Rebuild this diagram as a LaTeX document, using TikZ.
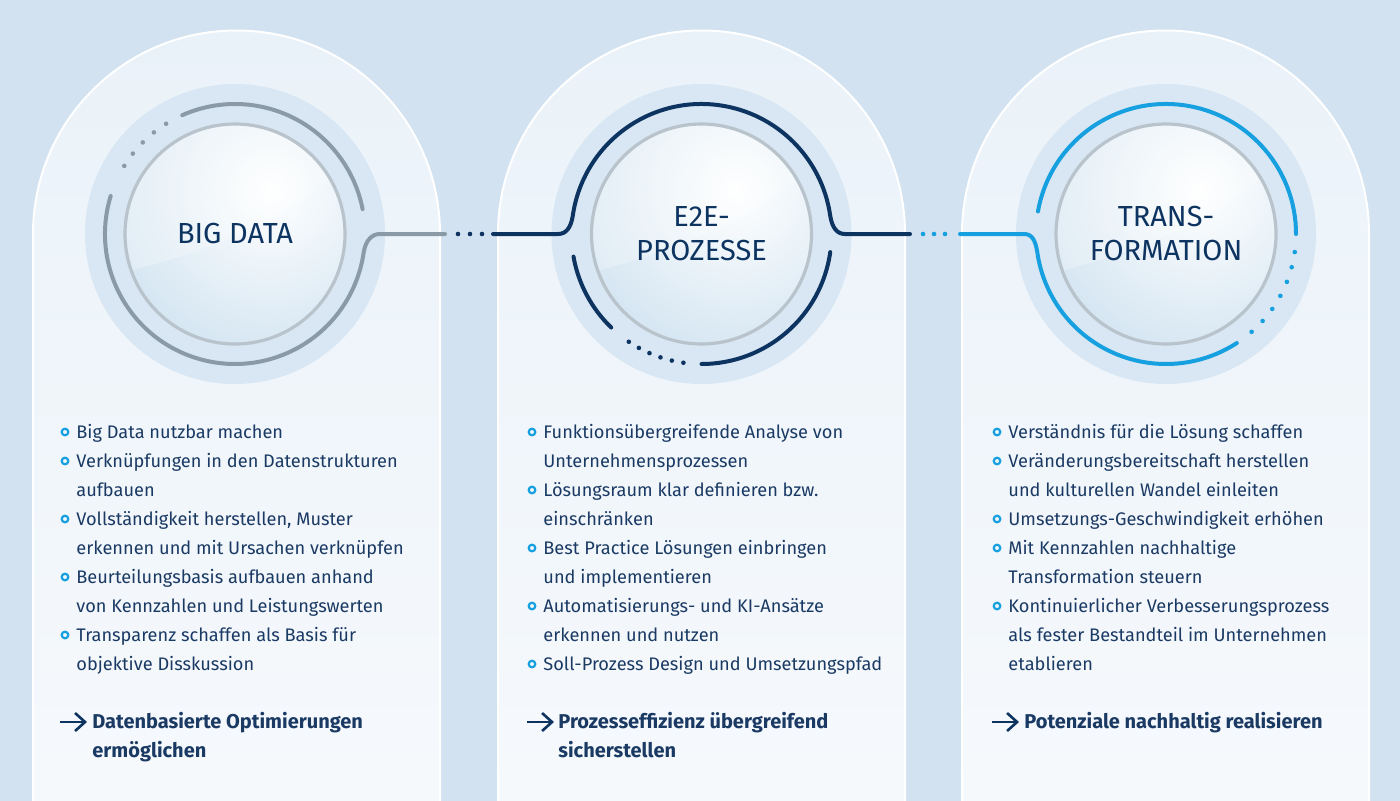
\documentclass[tikz,border=0pt]{standalone}
\usepackage{fontspec}
\setmainfont{Fira Sans}
\usetikzlibrary{calc,arrows.meta}
\definecolor{navy}{HTML}{0D3461}
\definecolor{txtc}{HTML}{1A3A64}
\definecolor{gr}{HTML}{8A9AA6}
\definecolor{lb}{HTML}{17A0E0}
\definecolor{disk}{HTML}{D8E7F3}
\definecolor{bgedge}{HTML}{D2E2F0}
\definecolor{bgmid}{HTML}{E6EFF7}
\definecolor{glass}{HTML}{D2E4F1}
\definecolor{ptop}{HTML}{EAF2F9}
\definecolor{pbot}{HTML}{F6F9FC}
\begin{document}
\begin{tikzpicture}[x=0.5pt,y=0.5pt,
  txt/.style={anchor=base west,inner sep=0,text=txtc,font=\fontsize{9.1}{10}\selectfont},
  bold/.style={anchor=base west,inner sep=0,text=txtc,font=\fontsize{10}{10}\selectfont\bfseries},
  title/.style={align=center,text=navy,font=\fontsize{14.5}{17}\selectfont},
  bul/.style={draw=lb,line width=1.1pt,fill=none},
  ring/.style={line width=2pt,line cap=round},
  panel/.style={draw=white,line width=1pt,top color=ptop,bottom color=pbot}]
\useasboundingbox (0,0) rectangle (1400,800);
\shade[left color=bgedge,middle color=bgmid,right color=bgedge] (0,0) rectangle (1400,800);
% panels
\foreach \cx in {236.5,701.5,1165.5}{
  \path[panel] (\cx-203.5,-2) -- (\cx-203.5,566) arc[start angle=180,end angle=0,radius=203.5] -- (\cx+203.5,-2) -- cycle;
}
% circles
\foreach \cx/\n in {235/c1,701.5/c2,1166/c3}{
  \coordinate (\n) at (\cx,566);
  \fill[disk] (\n) circle[radius=150];
  \begin{scope}
    \clip (\n) circle[radius=110];
    \shade[inner color=white, outer color=glass] ($(\n)+(35,45)$) circle[radius=180];
    \fill[white,opacity=0.25] ($(\n)+(-200,-60)$) .. controls ($(\n)+(-20,-20)$) and ($(\n)+(60,10)$) .. ($(\n)+(140,100)$) -- ($(\n)+(140,200)$) -- ($(\n)+(-200,200)$) -- cycle;
  \end{scope}
  \draw[color=gray!35!disk,line width=1.6pt] (\n) circle[radius=110];
}
% panel 1 rings
\draw[ring,gr] ($(c1)+(114:130)$) arc[start angle=114,end angle=11,radius=130];
\foreach \a in {122,128.6,...,155} \fill[gr] ($(c1)+(\a:130)$) circle[radius=2.3];
\draw[ring,gr] ($(c1)+(163:130)$) arc[start angle=163,end angle=352,radius=130]
  .. controls +(2,12) and +(-8,0) .. (380,566) coordinate (l1) -- (445,566) coordinate (r1);
\foreach \x in {458,470,482} \fill[navy] (\x,566) circle[radius=2.3];
% panel 2 rings
\coordinate (l2) at (493,566);
\draw[ring,navy] (l2) -- (558,566) .. controls +(8,0) and +(-2,-12) .. ($(c2)+(172:130)$)
  arc[start angle=172,end angle=8,radius=130] .. controls +(2,-12) and +(-8,0) .. (845,566) -- (910,566) coordinate (r2);
\draw[ring,navy] ($(c2)+(190:130)$) arc[start angle=190,end angle=226,radius=130];
\foreach \a in {236,241.2,...,262.5} \fill[navy] ($(c2)+(\a:130)$) circle[radius=2.3];
\draw[ring,navy] ($(c2)+(270:130)$) arc[start angle=270,end angle=352,radius=130];
\foreach \x in {923,934,945} \fill[lb] (\x,566) circle[radius=2.3];
% panel 3 rings
\coordinate (l3) at (960,566);
\draw[ring,lb] (l3) -- (1024,566) .. controls +(8,0) and +(-2,12) .. ($(c3)+(188:130)$)
  arc[start angle=188,end angle=303,radius=130];
\draw[ring,lb] ($(c3)+(170:130)$) arc[start angle=170,end angle=0,radius=130];
\foreach \a in {-8,-14.8,...,-49} \fill[lb] ($(c3)+(\a:130)$) circle[radius=2.3];
% titles
\node[title] (t1) at (c1) {BIG DATA};
\node[title] (t2) at (c2) {E2E-\\PROZESSE};
\node[title] (t3) at (c3) {TRANS-\\FORMATION};
% bullet texts
\foreach \t [count=\i from 0] in {Big Data nutzbar machen,Verknüpfungen in den Datenstrukturen,aufbauen,{Vollständigkeit herstellen, Muster},erkennen und mit Ursachen verknüpfen,Beurteilungsbasis aufbauen anhand,von Kennzahlen und Leistungswerten,Transparenz schaffen als Basis für,objektive Disskussion}
  \node[txt] (a\i) at (76,362-29*\i) {\t};
\foreach \i in {0,1,3,5,7} \draw[bul] (65,368-29*\i) circle[radius=3.3];
\foreach \t [count=\i from 0] in {Funktionsübergreifende Analyse von,Unternehmensprozessen,Lösungsraum klar definieren bzw.,einschränken,Best Practice Lösungen einbringen,und implementieren,Automatisierungs- und KI-Ansätze,erkennen und nutzen,Soll-Prozess Design und Umsetzungspfad}
  \node[txt] (b\i) at (543,362-29*\i) {\t};
\foreach \i in {0,2,4,6,8} \draw[bul] (532,368-29*\i) circle[radius=3.3];
\foreach \t [count=\i from 0] in {Verständnis für die Lösung schaffen,Veränderungsbereitschaft herstellen,und kulturellen Wandel einleiten,Umsetzungs-Geschwindigkeit erhöhen,Mit Kennzahlen nachhaltige,Transformation steuern,Kontinuierlicher Verbesserungsprozess,als fester Bestandteil im Unternehmen,etablieren}
  \node[txt] (d\i) at (1008,362-29*\i) {\t};
\foreach \i in {0,1,3,4,6} \draw[bul] (997,368-29*\i) circle[radius=3.3];
% conclusions
\foreach \x in {60,527,992} \draw[navy,line width=1.3pt,-{Straight Barb[length=5pt,width=9pt]}] (\x,78) -- (\x+27,78);
\node[bold] (e1) at (92,72) {Datenbasierte Optimierungen};
\node[bold] (e1b) at (92,43) {ermöglichen};
\node[bold] (e2) at (558,72) {Prozesseffizienz übergreifend};
\node[bold] (e2b) at (558,43) {sicherstellen};
\node[bold] (e3) at (1024,72) {Potenziale nachhaltig realisieren};
\end{tikzpicture}
\end{document}
